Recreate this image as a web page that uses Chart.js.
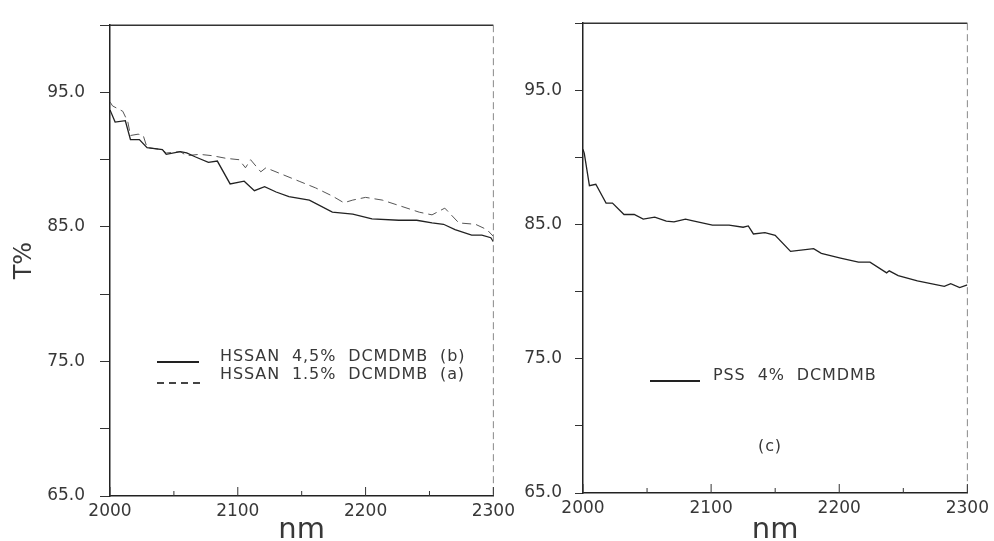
<!DOCTYPE html>
<html>
<head>
<meta charset="utf-8">
<script src="https://cdn.jsdelivr.net/npm/chart.js@4/dist/chart.umd.min.js"></script>
<style>
    body { margin: 0; background: #fff; }
    #wrap { position: relative; width: 994px; height: 541px; overflow: hidden; }
    canvas { position: absolute; top: 0; }
    .lg { position: absolute; font: 16px 'DejaVu Sans', sans-serif; color: #383838; white-space: pre; letter-spacing: 0.9px; line-height: 18px; }
    .sample { position: absolute; height: 1.5px; }
    .solid { background: #222; }
    .dashed { background: repeating-linear-gradient(to right, #444 0 7px, transparent 7px 12px); }
</style>
</head>
<body>
<div id="wrap">
    <canvas id="leftChart" style="left:0" width="520" height="541"></canvas>
    <canvas id="rightChart" style="left:500px" width="494" height="541"></canvas>

    <div class="sample solid" style="left:157px; top:361px; width:42px;"></div>
    <div class="lg" style="left:220px; top:347px;">HSSAN  4,5%  DCMDMB  (b)</div>
    <div class="sample dashed" style="left:157px; top:382px; width:45px;"></div>
    <div class="lg" style="left:220px; top:365px;">HSSAN  1.5%  DCMDMB  (a)</div>

    <div class="sample solid" style="left:650px; top:380px; width:50px;"></div>
    <div class="lg" style="left:713px; top:366px;">PSS  4%  DCMDMB</div>
    <div class="lg" style="left:758px; top:437px;">(c)</div>
</div>

<script>
// Data
const waveB = [2000, 2004, 2012, 2016, 2023, 2029, 2041, 2044, 2055, 2060, 2067, 2077, 2084, 2094, 2105, 2113, 2121, 2130, 2140, 2156, 2174, 2190, 2205, 2226, 2240, 2252, 2261, 2270, 2283, 2291, 2298, 2300];
const transB = [93.7, 92.8, 92.9, 91.5, 91.5, 90.9, 90.75, 90.4, 90.6, 90.5, 90.2, 89.8, 89.9, 88.2, 88.4, 87.7, 88.0, 87.6, 87.25, 87.0, 86.1, 85.95, 85.6, 85.5, 85.5, 85.3, 85.2, 84.8, 84.4, 84.4, 84.2, 83.9];

const waveA = [2000, 2002, 2010, 2014, 2016, 2022, 2026, 2029, 2041, 2044, 2055, 2060, 2070, 2080, 2091, 2101, 2106, 2110, 2118, 2122, 2135, 2148, 2161, 2174, 2183, 2190, 2200, 2213, 2226, 2242, 2252, 2262, 2273, 2286, 2295, 2300];
const transA = [94.3, 94.0, 93.6, 92.8, 91.8, 91.9, 91.8, 90.9, 90.75, 90.5, 90.6, 90.3, 90.4, 90.3, 90.1, 90.0, 89.4, 90.0, 89.1, 89.4, 88.9, 88.4, 87.9, 87.3, 86.8, 87.0, 87.2, 87.0, 86.6, 86.1, 85.9, 86.4, 85.3, 85.2, 84.8, 84.3];

const waveC = [2000, 2001, 2002, 2005, 2010, 2018, 2023, 2032, 2040, 2047, 2056, 2065, 2071, 2080, 2085, 2101, 2114, 2125, 2129, 2133, 2142, 2150, 2162, 2180, 2186, 2201, 2215, 2224, 2237, 2239, 2246, 2261, 2282, 2287, 2294, 2300];
const transC = [90.6, 90.3, 89.7, 87.9, 88.0, 86.6, 86.6, 85.75, 85.75, 85.4, 85.55, 85.25, 85.2, 85.4, 85.3, 84.95, 84.95, 84.8, 84.9, 84.3, 84.4, 84.2, 83.0, 83.2, 82.85, 82.5, 82.2, 82.2, 81.4, 81.55, 81.2, 80.8, 80.4, 80.6, 80.3, 80.5];

const xMin = 2000, xMax = 2300;
const yMin = 65, yMax = 100;

const toPoints = (xs, ys) => xs.map((x, i) => ({ x: x, y: ys[i] }));

// top border + dashed right border + inward x ticks
const framePlugin = {
    id: 'frame',
    afterDraw(chart) {
        const { ctx, chartArea: a, scales } = chart;
        ctx.save();
        ctx.strokeStyle = '#333';
        ctx.lineWidth = 1.5;
        ctx.beginPath();
        ctx.moveTo(a.left, a.top);
        ctx.lineTo(a.right, a.top);
        ctx.stroke();

        ctx.strokeStyle = '#888';
        ctx.lineWidth = 1;
        ctx.setLineDash([7, 4]);
        ctx.beginPath();
        ctx.moveTo(a.right, a.top);
        ctx.lineTo(a.right, a.bottom);
        ctx.stroke();
        ctx.setLineDash([]);

        ctx.strokeStyle = '#333';
        scales.x.ticks.forEach(t => {
            const px = scales.x.getPixelForValue(t.value);
            const len = t.value % 100 === 0 ? 9 : 5;
            ctx.beginPath();
            ctx.moveTo(px, a.bottom);
            ctx.lineTo(px, a.bottom - len);
            ctx.stroke();
        });
        ctx.restore();
    }
};

function makeChart(id, datasets, cfg) {
    const tickFont = { family: "'DejaVu Sans', sans-serif", size: 17 };
    return new Chart(document.getElementById(id), {
        type: 'line',
        data: { datasets: datasets },
        options: {
            responsive: false,
            animation: false,
            layout: { padding: { top: cfg.top, right: cfg.right, left: 0, bottom: 0 } },
            plugins: { legend: { display: false }, tooltip: { enabled: false } },
            elements: { point: { radius: 0 }, line: { tension: 0 } },
            scales: {
                x: {
                    type: 'linear',
                    min: xMin, max: xMax,
                    afterFit: s => { s.height = cfg.xHeight; },
                    border: { display: true, color: '#222', width: 1.5 },
                    grid: { display: true, drawOnChartArea: false, drawTicks: false },
                    ticks: {
                        stepSize: 50, autoSkip: false, maxRotation: 0, padding: 5,
                        color: '#383838', font: tickFont,
                        callback: v => (v % 100 === 0 ? String(v) : '')
                    },
                    title: {
                        display: true, text: 'nm', color: '#383838',
                        font: { family: "'DejaVu Sans', sans-serif", size: 29, lineHeight: 1 },
                        padding: { top: 0, bottom: -4 }
                    }
                },
                y: {
                    min: yMin, max: yMax,
                    afterFit: s => { s.width = cfg.yWidth; },
                    border: { display: true, color: '#222', width: 1.5 },
                    grid: { display: true, drawOnChartArea: false, drawTicks: true, tickLength: cfg.tickLen, color: '#333' },
                    ticks: {
                        stepSize: 5, padding: cfg.tickPad,
                        color: '#383838', font: tickFont,
                        callback: v => ((v - 65) % 10 === 0 ? v.toFixed(1) : '')
                    },
                    title: {
                        display: cfg.yTitle, text: 'T%', color: '#383838',
                        font: { family: "'DejaVu Sans', sans-serif", size: 24, lineHeight: 1 },
                        padding: { top: 13, bottom: 0 }
                    }
                }
            }
        },
        plugins: [framePlugin]
    });
}

makeChart('leftChart', [
    {
        label: 'HSSAN 4,5% DCMDMB (b)',
        data: toPoints(waveB, transB),
        borderColor: '#222', borderWidth: 1.3
    },
    {
        label: 'HSSAN 1.5% DCMDMB (a)',
        data: toPoints(waveA, transA),
        borderColor: '#555', borderWidth: 1, borderDash: [9, 5]
    }
], { top: 15, right: 26, xHeight: 45, yWidth: 110, tickLen: 10, tickPad: 15, yTitle: true });

makeChart('rightChart', [
    {
        label: 'PSS 4% DCMDMB',
        data: toPoints(waveC, transC),
        borderColor: '#222', borderWidth: 1.3
    }
], { top: 13, right: 24, xHeight: 48, yWidth: 83, tickLen: 8, tickPad: 13, yTitle: false });
</script>
</body>
</html>
